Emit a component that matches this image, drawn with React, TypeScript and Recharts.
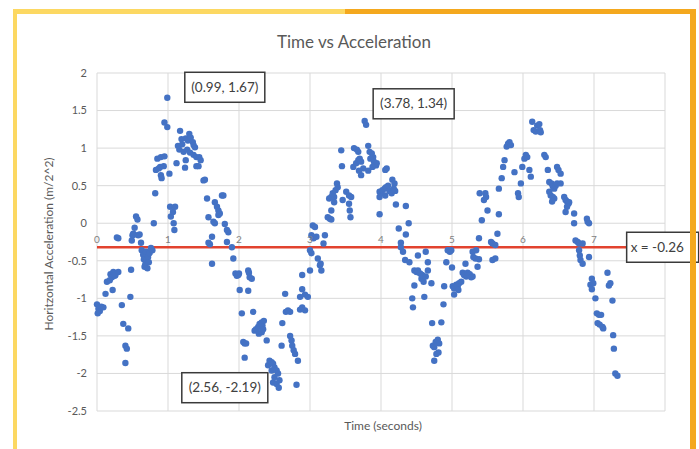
import { ScatterChart, Scatter, XAxis, YAxis, CartesianGrid, ReferenceLine, ReferenceDot } from 'recharts';

// readings (time s, horizontal acceleration), grouped by second
const firstSecond: [number, number][] = [
  [0.00, -1.08], [0.02, -1.14], [0.01, -1.20], [0.04, -1.17], [0.06, -1.11], [0.09, -1.12],
  [0.12, -0.94], [0.14, -0.78], [0.18, -0.76], [0.19, -0.68], [0.21, -0.72], [0.22, -0.89], [0.23, -0.65], [0.25, -0.70], [0.26, -0.69], [0.30, -0.65],
  [0.28, -0.19], [0.30, -0.20],
  [0.35, -1.09], [0.37, -1.34], [0.40, -1.63], [0.42, -1.67], [0.40, -1.86], [0.44, -1.40], [0.47, -0.98], [0.48, -0.62],
  [0.49, -0.23], [0.50, -0.16], [0.51, -0.14], [0.52, -0.15], [0.53, -0.06], [0.55, 0.09], [0.57, 0.05], [0.58, -0.16], [0.60, -0.15], [0.62, -0.26],
  [0.63, -0.36], [0.65, -0.42], [0.66, -0.48], [0.67, -0.58], [0.68, -0.55], [0.69, -0.38], [0.70, -0.50], [0.71, -0.60], [0.72, -0.45], [0.73, -0.52], [0.74, -0.40], [0.76, -0.33], [0.78, -0.36],
  [0.80, 0.00], [0.82, 0.40], [0.83, 0.71], [0.85, 0.86], [0.87, 0.73], [0.89, 0.75], [0.90, 0.88], [0.90, 0.64], [0.91, 0.60], [0.94, 0.76], [0.95, 0.89], [0.95, 1.34], [0.99, 1.28], [0.99, 1.67],
];

const secondSecond: [number, number][] = [
  [1.02, 0.66], [1.03, 0.22], [1.04, 0.09], [1.07, 0.15], [1.08, 0.00], [1.09, -0.09], [1.10, 0.22], [1.12, 0.80],
  [1.14, 1.03], [1.16, 0.98], [1.17, 1.23], [1.19, 1.12], [1.20, 1.05], [1.22, 0.95], [1.24, 0.74], [1.25, 1.13], [1.25, 0.84], [1.27, 0.98], [1.28, 1.10], [1.30, 1.19],
  [1.31, 0.94], [1.32, 1.14], [1.35, 1.08], [1.36, 1.04], [1.36, 0.91], [1.38, 1.01], [1.40, 0.88], [1.40, 0.76], [1.43, 0.76], [1.44, 0.88], [1.46, 0.84],
  [1.50, 0.57], [1.52, 0.58], [1.55, 0.33], [1.57, 0.08], [1.57, -0.26], [1.59, -0.28], [1.62, -0.18], [1.62, -0.54], [1.64, 0.02], [1.66, 0.00], [1.66, 0.28],
  [1.69, 0.22], [1.71, 0.17], [1.71, 0.11], [1.73, 0.13], [1.76, 0.37], [1.78, 0.37], [1.80, -0.01], [1.83, -0.09], [1.83, -0.25], [1.85, -0.12], [1.90, -0.32],
  [1.92, -0.47], [1.95, -0.67], [1.97, -0.70], [1.99, -0.69],
];

const thirdSecond: [number, number][] = [
  [2.00, -0.67], [2.01, -0.89], [2.04, -1.20], [2.06, -1.58], [2.08, -1.60], [2.10, -1.60], [2.08, -1.79], [2.13, -0.63], [2.13, -0.90], [2.14, -0.66], [2.15, -0.72], [2.18, -0.74], [2.20, -1.18],
  [2.22, -1.43], [2.24, -1.41], [2.27, -1.38], [2.28, -1.47], [2.29, -1.34], [2.32, -1.32], [2.32, -1.45], [2.33, -1.36], [2.34, -1.41], [2.35, -1.30], [2.39, -1.56],
  [2.41, -1.89], [2.43, -1.83], [2.46, -1.85], [2.46, -1.96], [2.48, -1.87], [2.48, -2.12], [2.50, -1.92], [2.50, -2.05], [2.53, -1.96], [2.53, -2.14], [2.55, -2.00], [2.56, -2.19], [2.57, -2.09],
  [2.60, -1.63], [2.61, -1.33], [2.65, -0.94], [2.66, -1.18], [2.69, -1.16], [2.72, -1.18], [2.72, -1.50], [2.74, -1.56], [2.75, -1.63], [2.77, -1.69], [2.79, -1.74], [2.81, -2.15], [2.83, -1.83],
  [2.86, -1.15], [2.86, -0.98], [2.89, -1.12], [2.89, -0.88], [2.89, -0.69], [2.93, -1.16], [2.93, -0.95], [2.97, -0.98],
];

const fourthSecond: [number, number][] = [
  [3.00, -0.63], [3.00, -0.36], [3.02, -0.40], [3.02, -0.16], [3.04, -0.03], [3.05, -0.20], [3.07, -0.05], [3.09, -0.18], [3.11, -0.47], [3.14, -0.56], [3.15, -0.54], [3.16, -0.63], [3.19, -0.27], [3.21, -0.16],
  [3.25, 0.08], [3.28, 0.06], [3.30, 0.05], [3.30, 0.17], [3.27, 0.33], [3.30, 0.35], [3.32, 0.40], [3.34, 0.35], [3.36, 0.44], [3.38, 0.53], [3.39, 0.48], [3.34, 0.28],
  [3.44, 0.97], [3.45, 0.76], [3.46, 0.31], [3.51, 0.42], [3.55, 0.37], [3.58, 0.35], [3.55, 0.26], [3.56, 0.17], [3.57, 0.08],
  [3.62, 1.00], [3.66, 0.98], [3.68, 0.95], [3.61, 0.75], [3.65, 0.80], [3.68, 0.84], [3.70, 0.86], [3.72, 0.82], [3.75, 0.73], [3.72, 0.64], [3.69, 0.70],
  [3.77, 1.36], [3.79, 1.31], [3.82, 1.03], [3.84, 0.95], [3.87, 0.93], [3.89, 0.88], [3.85, 0.86], [3.90, 0.82], [3.93, 0.77], [3.94, 0.80], [3.88, 0.75], [3.82, 0.70],
  [3.98, 0.12], [3.98, 0.42], [4.00, 0.40], [3.98, 0.35],
];

const fifthSecond: [number, number][] = [
  [4.02, 0.44], [4.05, 0.46], [4.07, 0.48], [4.10, 0.50], [4.06, 0.37], [4.12, 0.43], [4.16, 0.58], [4.19, 0.53], [4.18, 0.46], [4.15, 0.40], [4.20, 0.43], [4.08, 0.73], [4.06, 0.71],
  [4.21, 0.25], [4.25, -0.07], [4.28, -0.26], [4.28, -0.32], [4.31, -0.38], [4.34, -0.49], [4.35, 0.23], [4.35, -0.15], [4.39, 0.00], [4.40, -0.52],
  [4.44, -1.00], [4.45, -1.12], [4.47, -0.63], [4.47, -0.83], [4.50, -0.65], [4.52, -0.43], [4.52, -0.63], [4.55, -0.67], [4.57, -0.74], [4.58, -0.69], [4.60, -0.78], [4.61, -0.98], [4.63, -0.38], [4.63, -0.71], [4.66, -0.52], [4.66, -0.63],
  [4.71, -0.80], [4.72, -1.33], [4.73, -1.63], [4.75, -1.65], [4.77, -1.58], [4.80, -1.55], [4.82, -1.60], [4.81, -1.72], [4.78, -1.74], [4.75, -1.83], [4.85, -1.32], [4.88, -1.08], [4.89, -0.84],
  [4.92, -0.52], [4.94, -0.36], [4.97, -0.38], [4.99, -0.36], [5.00, -0.59],
];

const sixthSecond: [number, number][] = [
  [5.01, -0.84], [5.03, -0.87], [5.06, -0.82], [5.08, -0.84], [5.10, -0.80], [5.13, -0.78], [5.09, -0.89], [5.03, -0.95],
  [5.15, -0.66], [5.17, -0.69], [5.20, -0.71], [5.22, -0.66], [5.25, -0.68], [5.27, -0.72], [5.29, -0.71], [5.19, -0.54],
  [5.29, -0.38], [5.30, -0.45], [5.33, -0.47], [5.34, -0.36], [5.36, -0.58], [5.38, -0.48],
  [5.38, -0.20], [5.39, 0.40], [5.42, 0.04], [5.45, 0.31], [5.47, 0.40], [5.48, 0.35], [5.50, 0.17], [5.55, -0.25], [5.57, -0.27], [5.57, -0.49], [5.61, -0.29], [5.61, -0.47],
  [5.64, -0.14], [5.66, 0.12], [5.66, 0.46], [5.70, 0.60], [5.72, 0.75], [5.74, 0.84],
  [5.77, 1.02], [5.79, 1.06], [5.81, 1.08], [5.83, 1.04], [5.88, 0.68], [5.93, 0.40], [5.94, 0.35], [5.97, 0.53], [5.99, 0.75],
];

const seventhSecond: [number, number][] = [
  [6.02, 0.86], [6.04, 0.91], [6.06, 0.88], [6.09, 0.71], [6.11, 0.62], [6.13, 1.35], [6.15, 1.24], [6.18, 1.22], [6.20, 1.30], [6.23, 1.32], [6.24, 1.24], [6.25, 1.21],
  [6.30, 0.91], [6.32, 0.88], [6.35, 0.71], [6.37, 0.55], [6.40, 0.53], [6.42, 0.49], [6.44, 0.46], [6.46, 0.50], [6.48, 0.53], [6.53, 0.53], [6.37, 0.42], [6.39, 0.37], [6.42, 0.35], [6.44, 0.33], [6.41, 0.29],
  [6.48, 0.75], [6.50, 0.71], [6.53, 0.66],
  [6.58, 0.35], [6.60, 0.31], [6.62, 0.29], [6.64, 0.26], [6.65, 0.28], [6.62, 0.22], [6.60, 0.15],
  [6.72, 0.13], [6.72, 0.00], [6.74, -0.23], [6.77, -0.25], [6.79, -0.27], [6.84, -0.27], [6.79, -0.36], [6.80, -0.43], [6.81, -0.49], [6.84, -0.54], [6.90, 0.06], [6.91, 0.02], [6.93, 0.00], [6.93, -0.45],
  [6.95, -0.82], [6.97, -0.74], [6.97, -0.88], [6.99, -0.80],
];

const lastSecond: [number, number][] = [
  [7.02, -1.00], [7.04, -1.20], [7.07, -1.22], [7.10, -1.22], [7.05, -1.33], [7.08, -1.35], [7.12, -1.38], [7.13, -1.40],
  [7.19, -0.66], [7.21, -0.83], [7.23, -0.80], [7.26, -1.03], [7.27, -1.49], [7.28, -1.67], [7.30, -2.00], [7.33, -2.03],
];

const xTicks = [0, 1, 2, 3, 4, 5, 6, 7, 8];
const xTickLabels = ['0', '1', '2', '3', '4', '5', '6', '7', ''];
const yTicks = [-2.5, -2, -1.5, -1, -0.5, 0, 0.5, 1, 1.5, 2];
const meanValue = -0.32;
const meanText = 'x = -0.26';
const peakTexts = ['(0.99, 1.67)', '(3.78, 1.34)', '(2.56, -2.19)'];

const points = [
  ...firstSecond, ...secondSecond, ...thirdSecond, ...fourthSecond,
  ...fifthSecond, ...sixthSecond, ...seventhSecond, ...lastSecond,
].map(([t, a]) => ({ t, a }));

const W = 699;
const H = 449;
const margin = { top: 73, right: 34, bottom: 8, left: 57 };
const Y_AXIS_W = 40;
const X_AXIS_H = 30;
const plotH = H - margin.top - margin.bottom - X_AXIS_H;
// Excel draws the time labels where the axis crosses, just above the red line
const crossPx = margin.top + ((2 - meanValue) / (2 - -2.5)) * plotH;

const font = 'Lato, "Open Sans", sans-serif';

const XTick = ({ x, payload, index }: any) => (
  <text x={x} y={crossPx - 4} textAnchor="middle" fontSize={10} fill="#7f7f7f" fontFamily={font}>
    {xTickLabels[index] ?? payload.value}
  </text>
);

const Callout = ({ cx, cy, text, w, align = 'center' }: any) => {
  const left = align === 'left' ? cx : cx - w / 2;
  return (
    <g>
      <rect x={left} y={cy - 15} width={w} height={30} fill="#ffffff" stroke="#3a3a3a" strokeWidth={1.5} />
      <text x={align === 'left' ? left + 4 : cx} y={cy + 4.5} textAnchor={align === 'left' ? 'start' : 'middle'}
        fontSize={13.5} fill="#404040" fontFamily={font}>
        {text}
      </text>
    </g>
  );
};

const Dot = ({ cx, cy }: any) => <circle cx={cx} cy={cy} r={3.2} fill="#4472C4" />;

export default function App() {
  return (
    <div style={{ position: 'absolute', left: 0, top: 0, width: W, height: H, background: '#ffffff', overflow: 'hidden', fontFamily: font }}>
      <ScatterChart width={W} height={H} margin={margin}>
        <CartesianGrid stroke="#d9d9d9" strokeWidth={1} />
        <XAxis type="number" dataKey="t" domain={[0, 8]} ticks={xTicks} height={X_AXIS_H}
          axisLine={false} tickLine={false} tick={<XTick />} />
        <YAxis type="number" dataKey="a" domain={[-2.5, 2]} ticks={yTicks} width={Y_AXIS_W}
          axisLine={false} tickLine={false} tickMargin={4}
          tick={{ fontSize: 11, fill: '#595959', fontFamily: font }} />
        <ReferenceLine y={meanValue} stroke="#E2432F" strokeWidth={2.5} />
        <Scatter data={points} shape={<Dot />} isAnimationActive={false} />
        <ReferenceDot x={1.8} y={1.81} r={0} ifOverflow="visible"
          shape={(p: any) => <Callout cx={p.cx} cy={p.cy} w={80} text={peakTexts[0]} />} />
        <ReferenceDot x={4.46} y={1.59} r={0} ifOverflow="visible"
          shape={(p: any) => <Callout cx={p.cx} cy={p.cy} w={81} text={peakTexts[1]} />} />
        <ReferenceDot x={1.8} y={-2.19} r={0} ifOverflow="visible"
          shape={(p: any) => <Callout cx={p.cx} cy={p.cy} w={86} text={peakTexts[2]} />} />
        <ReferenceDot x={7.46} y={meanValue} r={0} ifOverflow="visible"
          shape={(p: any) => <Callout cx={p.cx} cy={p.cy} w={72} align="left" text={meanText} />} />
      </ScatterChart>

      {/* titles */}
      <div style={{ position: 'absolute', left: 0, width: 708, top: 31, lineHeight: '22px', textAlign: 'center', fontSize: 17, color: '#595959' }}>
        Time vs Acceleration
      </div>
      <div style={{ position: 'absolute', left: 283, width: 200, top: 418, lineHeight: '16px', textAlign: 'center', fontSize: 12, color: '#595959' }}>
        Time (seconds)
      </div>
      <div style={{ position: 'absolute', left: 48, top: 244, transform: 'translate(-50%, -50%) rotate(-90deg)', whiteSpace: 'nowrap', fontSize: 12, color: '#595959' }}>
        Horitzontal Acceleration (m/2^2)
      </div>

      {/* frame */}
      <div style={{ position: 'absolute', left: 13, top: 9, width: 332, height: 5, background: '#FCD862' }} />
      <div style={{ position: 'absolute', left: 345, top: 9, width: 351, height: 5, background: '#F4A81E' }} />
      <div style={{ position: 'absolute', left: 13, top: 9, width: 4, height: H - 9, background: '#FCD862' }} />
      <div style={{ position: 'absolute', left: 690, top: 9, width: 6, height: H - 9, background: '#F4A81E' }} />
    </div>
  );
}
